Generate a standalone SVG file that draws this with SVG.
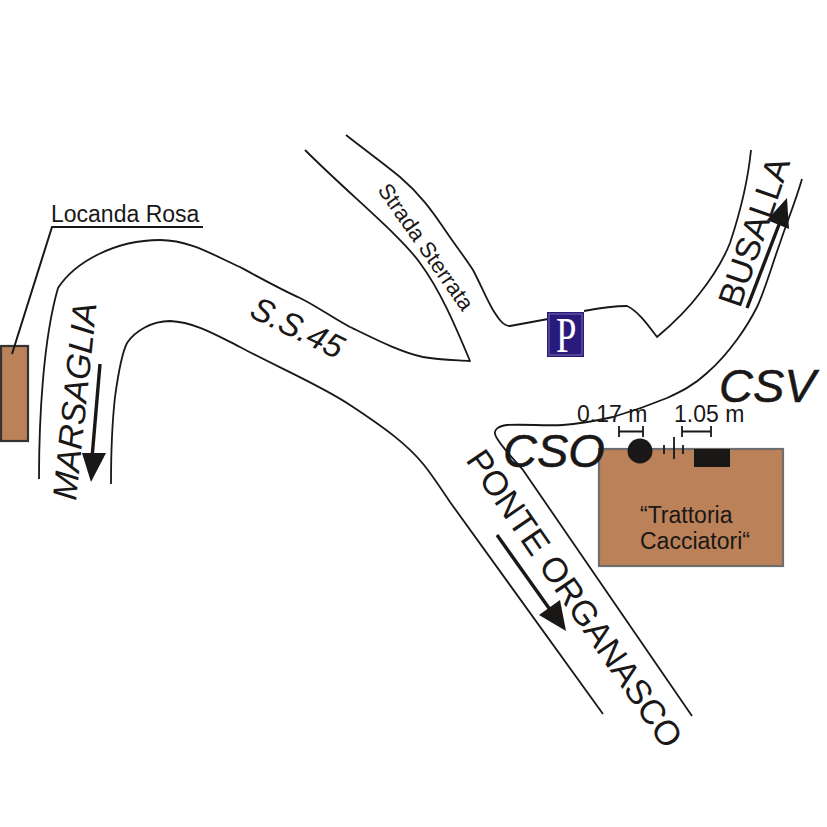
<svg xmlns="http://www.w3.org/2000/svg" width="827" height="827" viewBox="0 0 827 827">
<style>
.road{fill:none;stroke:#1a1717;stroke-width:1.8;stroke-linejoin:round}
.thick{fill:none;stroke:#1a1717;stroke-width:3.4}
.head{fill:#1a1717;stroke:none}
.dim{fill:none;stroke:#1a1717;stroke-width:1.8}
text{font-family:"Liberation Sans",Arial,sans-serif;fill:#1a1717}
.big{font-size:47px;font-style:italic;stroke:#1a1717;stroke-width:.5}
.building{fill:#bb8159;stroke:#6e6e6e;stroke-width:2.2}
</style>
<rect width="827" height="827" fill="#fff"/>
<g id="connectors">
<path class="road" d="M39 479C39 420 43 340 58 288C75 262 115 240 160 240C190 240 215 256 240 267C262 279 282 290 300 298C318 307 333 318 350 327C375 339 400 352 423 357C440 360 455 360 470 361C455 325 440 290 420 263C400 235 350 195 305 150"/>
<path class="road" d="M346 135C365 150 383 163 400 177C420 194 432 211 443 227C455 245 464 256 473 270C480 283 486 298 493 310C498 318 503 326 510 326L548 319"/>
<path class="road" d="M584 311C600 308 612 306 627 306C638 311 648 325 657 337C675 322 688 309 700 293C715 274 724 258 730 243C741 210 748 180 751 150"/>
<path class="road" d="M802 179C795 203 787 222 780 243C772 265 765 290 757 307C748 325 730 353 707 373C693 386 680 392 667 398C650 405 630 412 613 417C595 421 580 424 563 425C545 426 525 424 507 425C498 426 494 430 495 434C497 442 510 455 523 470L692 716"/>
<path class="road" d="M111 484C111 440 113 415 115 397C118 375 121 355 127 343C135 331 152 321 170 321C195 322 218 336 240 347C275 366 320 385 350 405C385 428 408 445 424 465C432 475 442 490 450 502L603 714"/>
<g id="arrow-marsaglia"><path class="thick" d="M100 364L92 458"/><path class="head" d="M82 453L106 453L91 482Z"/></g>
<g id="arrow-busalla"><path class="thick" d="M747 308L780 222"/><path class="head" d="M767 220L787 198L789 229Z"/></g>
<g id="arrow-ponte"><path class="thick" d="M497 535L551 611"/><path class="head" d="M539 615L560 600L566 631Z"/></g>
</g>
<g id="locanda-rosa">
<rect class="building" x="1" y="346" width="27" height="95" style="stroke:#333"/>
<path fill="none" stroke="#1a1717" stroke-width="2" d="M203 227H52L12 354"/>
<text x="51" y="222" font-size="23">Locanda Rosa</text>
</g>
<g id="parking">
<rect x="547" y="312" width="37" height="45" fill="#2a1a7c"/>
<rect x="549" y="314" width="33" height="41" fill="none" stroke="#a9a4cc" stroke-width="0.6"/>
<text transform="translate(556 352) scale(.72 1)" font-size="51" style="font-family:'Liberation Serif',serif;fill:#fff">P</text>
</g>
<g id="trattoria">
<rect class="building" x="599" y="449" width="184" height="117"/>
<rect x="694" y="449" width="36" height="18" fill="#1a1717"/>
<circle cx="640" cy="451" r="12.5" fill="#1a1717"/>
<path class="dim" d="M664 445V454M674 437V459M683 445V454"/>
<text x="640" y="523" font-size="23">“Trattoria</text>
<text x="640" y="549" font-size="23">Cacciatori“</text>
</g>
<g id="dimensions">
<path class="dim" d="M619 431.500H643M619 426V437M643 426V437M682 431.500H711M682 426V437M711 426V437"/>
<text x="577" y="422" font-size="23">0.17 m</text>
<text x="674" y="422" font-size="23">1.05 m</text>
</g>
<g id="labels">
<text class="big" x="719" y="402">CSV</text>
<text class="big" x="503" y="467">CSO</text>
<text transform="translate(76 501) rotate(-84)" font-size="34" font-style="italic">MARSAGLIA</text>
<text transform="translate(248 316) rotate(26)" font-size="33" font-style="italic">S.S.45</text>
<text transform="translate(377 190) rotate(55)" font-size="22">Strada Sterrata</text>
<text transform="translate(740 309) rotate(-71)" font-size="34.500">BUSALLA</text>
<text transform="translate(465 460) rotate(55.500)" font-size="34.500">PONTE ORGANASCO</text>
</g>
</svg>
